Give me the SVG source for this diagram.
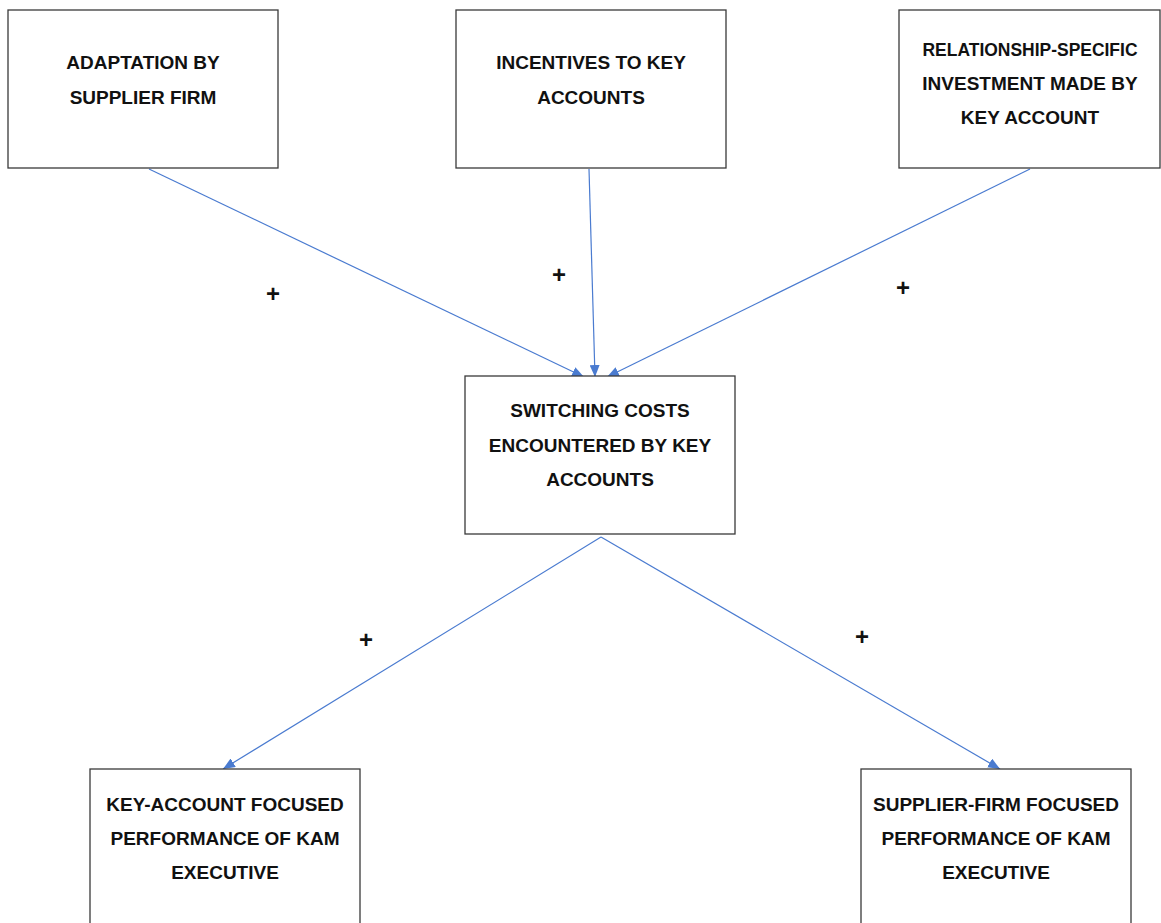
<svg xmlns="http://www.w3.org/2000/svg" width="1161" height="923" viewBox="0 0 1161 923">
<style>
.box{fill:#fff;stroke:#3a3a3a;stroke-width:1.3}
.lbl{font-family:"Liberation Sans",Arial,sans-serif;font-weight:bold;font-size:19px;fill:#111;text-anchor:middle}
.plus{font-family:"Liberation Sans",Arial,sans-serif;font-weight:bold;font-size:24px;fill:#111;text-anchor:middle}
.conn{stroke:#4a7bd0;stroke-width:1.2;fill:none;marker-end:url(#ah)}
</style>
<defs>
<marker id="ah" viewBox="0 0 12 10" refX="12" refY="5" markerWidth="12" markerHeight="10" markerUnits="userSpaceOnUse" orient="auto">
<path d="M0,0 L12,5 L0,10 Z" fill="#4a7bd0"/>
</marker>
</defs>
<rect width="1161" height="923" fill="#fff"/>
<g id="connectors">
<line class="conn" x1="149" y1="169" x2="584" y2="377"/>
<line class="conn" x1="589" y1="169" x2="595" y2="377"/>
<line class="conn" x1="1030" y1="169" x2="607" y2="377"/>
<line class="conn" x1="601" y1="537" x2="223" y2="769"/>
<line class="conn" x1="601" y1="537" x2="1000" y2="769"/>
</g>
<g id="node-adaptation">
<rect class="box" x="8" y="10" width="270" height="158"/>
<text class="lbl" x="143" y="69">ADAPTATION BY</text>
<text class="lbl" x="143" y="104">SUPPLIER FIRM</text>
</g>
<g id="node-incentives">
<rect class="box" x="456" y="10" width="270" height="158"/>
<text class="lbl" x="591" y="69">INCENTIVES TO KEY</text>
<text class="lbl" x="591" y="104">ACCOUNTS</text>
</g>
<g id="node-investment">
<rect class="box" x="899" y="10" width="261" height="158"/>
<text class="lbl" x="1030" y="56" textLength="215" lengthAdjust="spacingAndGlyphs">RELATIONSHIP-SPECIFIC</text>
<text class="lbl" x="1030" y="90">INVESTMENT MADE BY</text>
<text class="lbl" x="1030" y="124">KEY ACCOUNT</text>
</g>
<g id="node-switching">
<rect class="box" x="465" y="376" width="270" height="158"/>
<text class="lbl" x="600" y="417">SWITCHING COSTS</text>
<text class="lbl" x="600" y="452">ENCOUNTERED BY KEY</text>
<text class="lbl" x="600" y="486">ACCOUNTS</text>
</g>
<g id="node-keyaccount">
<rect class="box" x="90" y="769" width="270" height="170"/>
<text class="lbl" x="225" y="811">KEY-ACCOUNT FOCUSED</text>
<text class="lbl" x="225" y="845">PERFORMANCE OF KAM</text>
<text class="lbl" x="225" y="879">EXECUTIVE</text>
</g>
<g id="node-supplier">
<rect class="box" x="861" y="769" width="270" height="170"/>
<text class="lbl" x="996" y="811">SUPPLIER-FIRM FOCUSED</text>
<text class="lbl" x="996" y="845">PERFORMANCE OF KAM</text>
<text class="lbl" x="996" y="879">EXECUTIVE</text>
</g>
<g id="signs">
<text class="plus" x="273" y="302">+</text>
<text class="plus" x="559" y="283">+</text>
<text class="plus" x="903" y="296">+</text>
<text class="plus" x="366" y="648">+</text>
<text class="plus" x="862" y="645">+</text>
</g>
</svg>
